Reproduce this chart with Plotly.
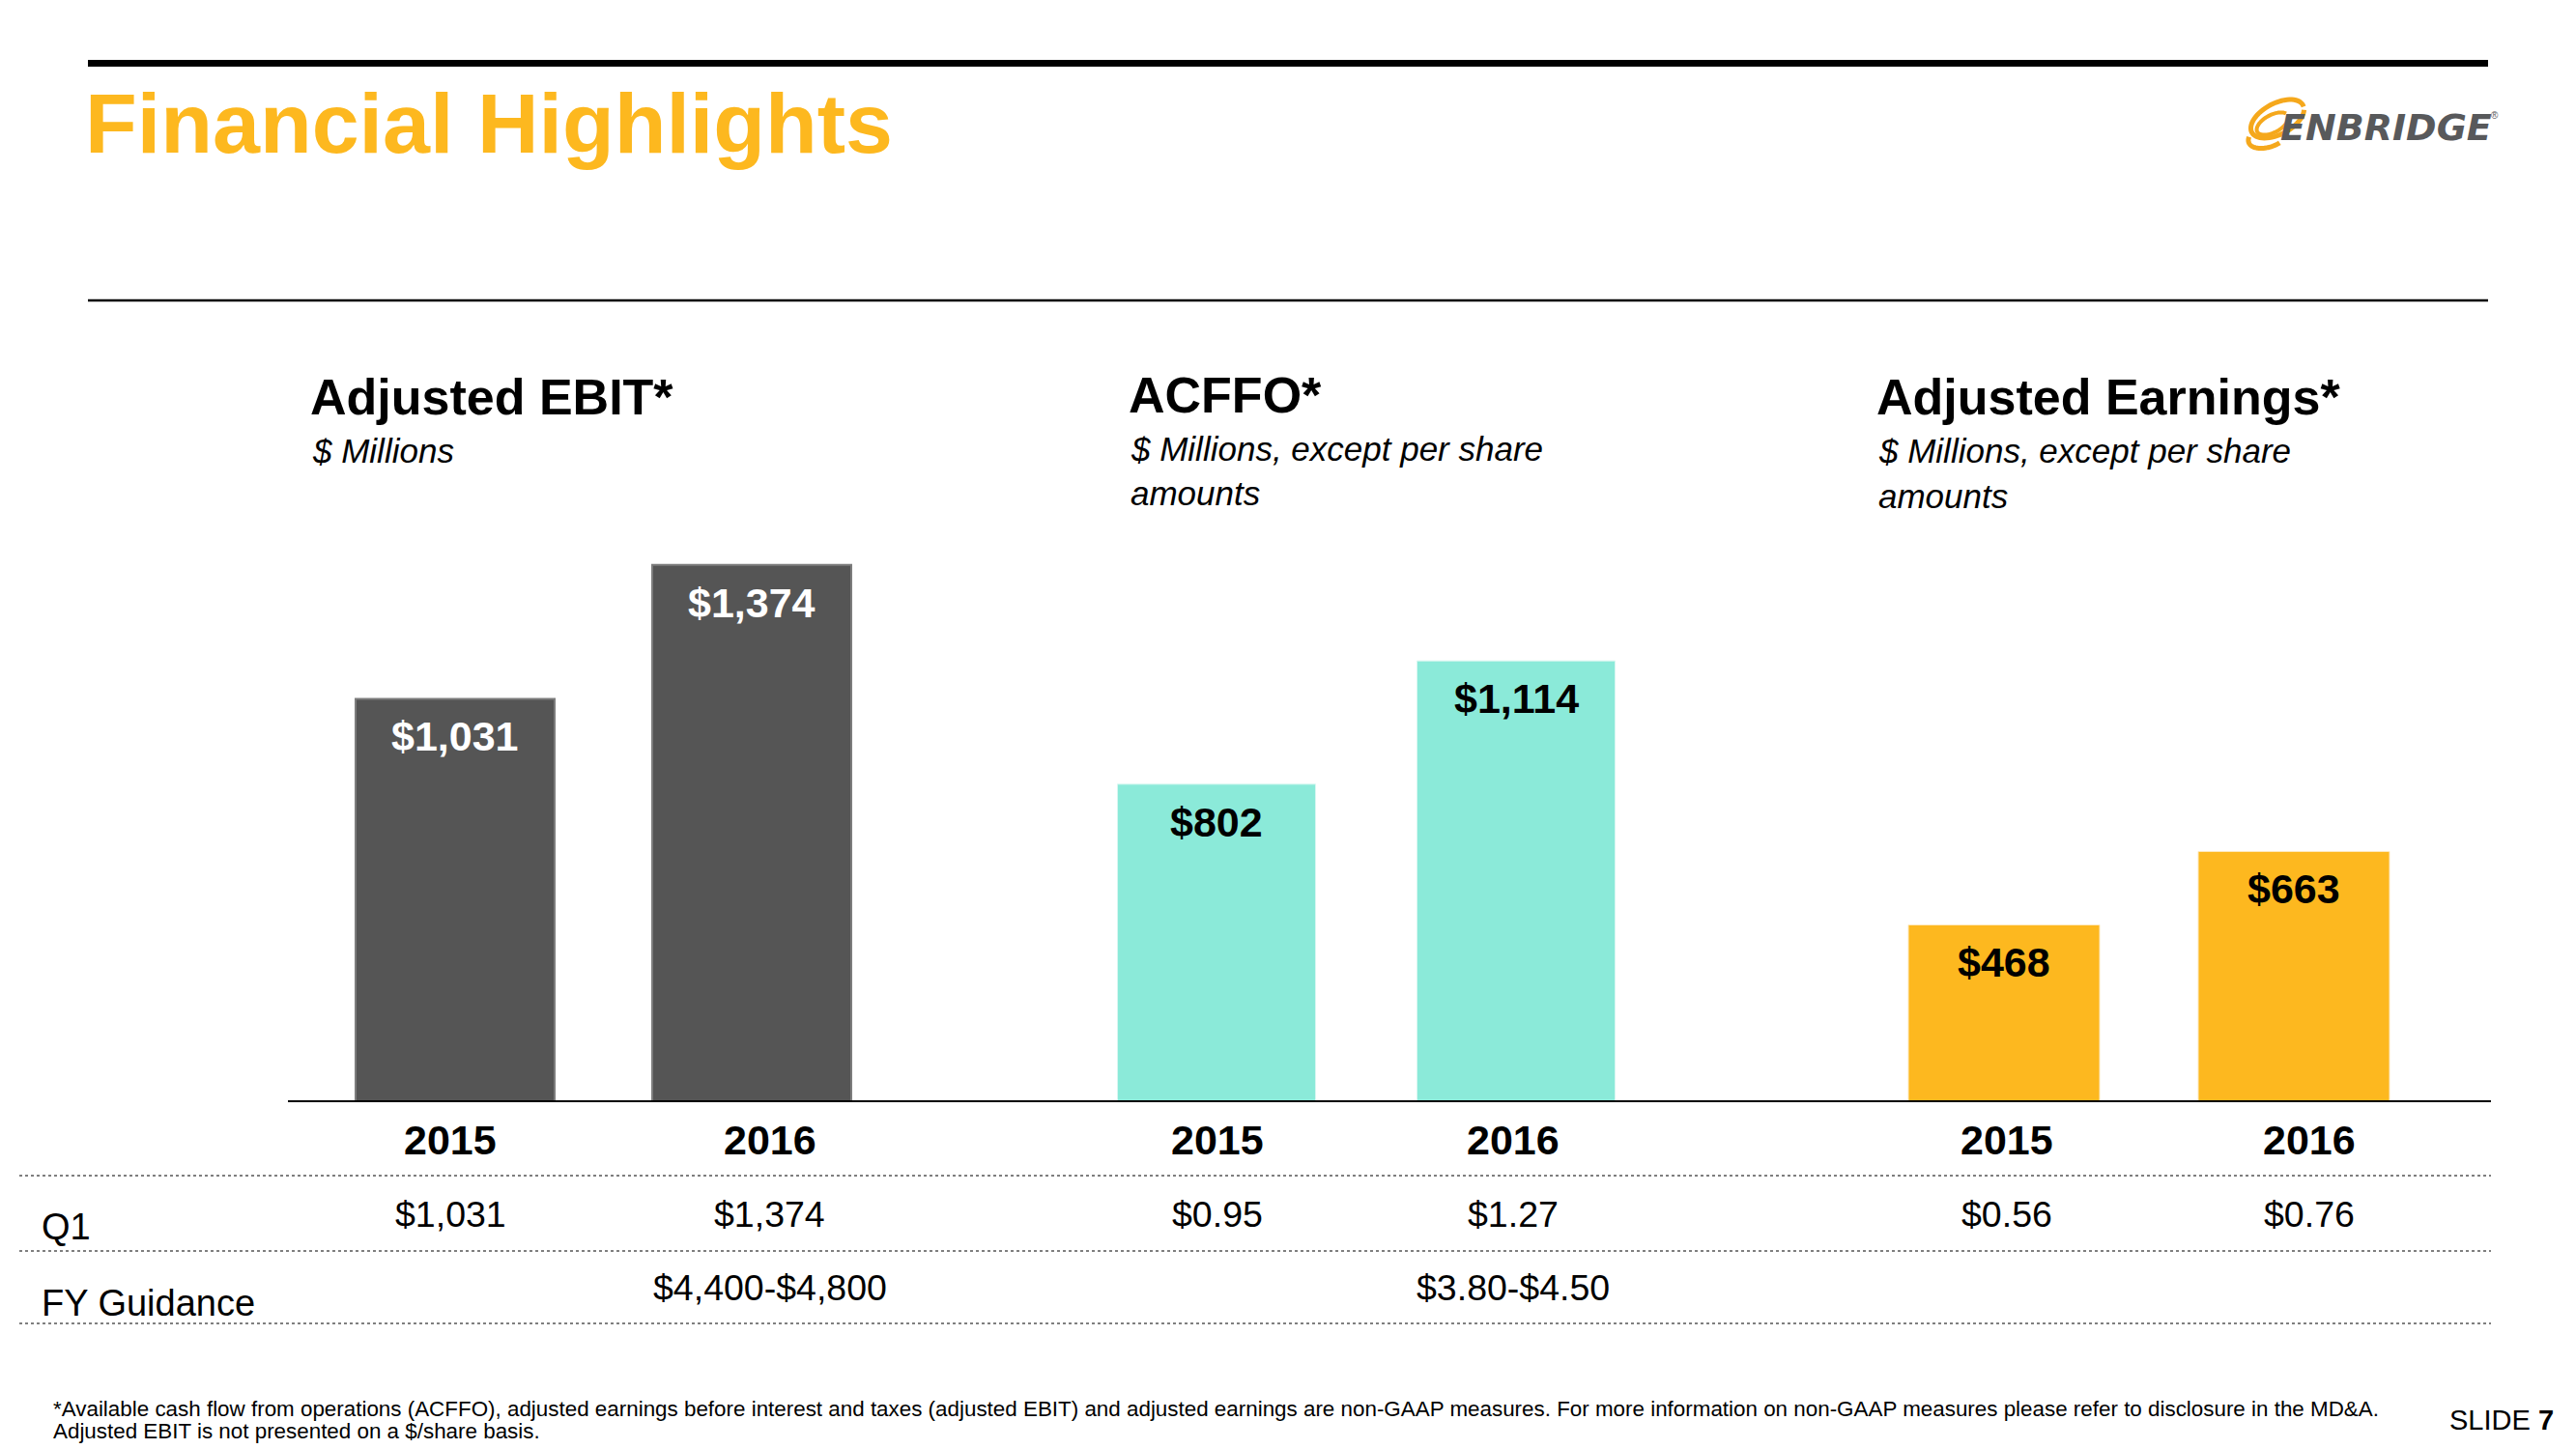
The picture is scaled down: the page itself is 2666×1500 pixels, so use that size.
import numpy as np
import plotly.graph_objects as go

W, H = 2666, 1500
OFF = 8  # page body margin compensation

# ---------------- data ----------------
years = ["2015", "2016"]
ebit = [1031, 1374]
acffo = [802, 1114]
earnings = [468, 663]
ebit_labels = ["$1,031", "$1,374"]
acffo_labels = ["$802", "$1,114"]
earn_labels = ["$468", "$663"]

q1_ebit = ["$1,031", "$1,374"]
q1_acffo = ["$0.95", "$1.27"]
q1_earn = ["$0.56", "$0.76"]
fy_ebit = "$4,400-$4,800"
fy_acffo = "$3.80-$4.50"

FONT = "Liberation Sans, Arial, Helvetica, sans-serif"
C_EBIT = "#555555"
C_ACFFO = "#8BEAD9"
C_EARN = "#FDB81F"
C_TITLE = "#FDB81F"


def px(x):
    return (x - OFF) / W


def py(y):
    return 1 - (y - OFF) / H


fig = go.Figure()

groups = [
    ("x", "y", ebit, ebit_labels, C_EBIT, "white", 206 / 307, dict(color="#7d7d7d", width=2)),
    ("x2", "y2", acffo, acffo_labels, C_ACFFO, "black", 205 / 310, dict(color="#d8f7f1", width=1)),
    ("x3", "y3", earnings, earn_labels, C_EARN, "black", 198 / 300, dict(color="#fde9bf", width=1)),
]

for xa, ya, vals, labs, col, tcol, wd, ln in groups:
    fig.add_trace(go.Bar(x=years, y=vals, xaxis=xa, yaxis=ya, width=wd,
                         marker=dict(color=col, line=ln), showlegend=False,
                         hoverinfo="skip"))
    for i, (v, lb) in enumerate(zip(vals, labs)):
        fig.add_annotation(x=i, y=v, xref=xa, yref=ya, text=lb, showarrow=False,
                           yshift=-39, yanchor="middle",
                           font=dict(family=FONT, size=43, color=tcol, weight="bold"))

ydom = [py(1140), py(500)]
axis_common = dict(showgrid=False, zeroline=False, showticklabels=False, showline=False, ticks="")
fig.update_layout(
    width=W, height=H, margin=dict(l=0, r=0, t=0, b=0),
    paper_bgcolor="white", plot_bgcolor="rgba(0,0,0,0)",
    xaxis=dict(domain=[px(317.5), px(931.5)], anchor="y", type="category", range=[-0.5, 1.5], **axis_common),
    xaxis2=dict(domain=[px(1104), px(1724)], anchor="y2", type="category", range=[-0.5, 1.5], **axis_common),
    xaxis3=dict(domain=[px(1924), px(2524)], anchor="y3", type="category", range=[-0.5, 1.5], **axis_common),
    yaxis=dict(domain=ydom, anchor="x", range=[0, 1584], **axis_common),
    yaxis2=dict(domain=ydom, anchor="x2", range=[0, 1564], **axis_common),
    yaxis3=dict(domain=ydom, anchor="x3", range=[0, 1641], **axis_common),
)

shapes = []
shapes.append(dict(type="line", xref="paper", yref="paper", x0=px(91), x1=px(2575), y0=py(65.5), y1=py(65.5),
                   line=dict(color="black", width=7)))
shapes.append(dict(type="line", xref="paper", yref="paper", x0=px(91), x1=px(2575), y0=py(311), y1=py(311),
                   line=dict(color="black", width=2.5)))
shapes.append(dict(type="line", xref="paper", yref="paper", x0=px(298), x1=px(2578), y0=py(1140), y1=py(1140),
                   line=dict(color="black", width=2)))
for yy in [1217, 1295, 1370]:
    shapes.append(dict(type="line", xref="paper", yref="paper", x0=px(20), x1=px(2578), y0=py(yy), y1=py(yy),
                       line=dict(color="#555555", width=1.5, dash="dot")))


def ellipse_path(cx, cy, rx, ry, ang_deg, t0=0.0, t1=2 * np.pi, n=60):
    t = np.linspace(t0, t1, n)
    a = np.deg2rad(ang_deg)
    xs = cx + rx * np.cos(t) * np.cos(a) - ry * np.sin(t) * np.sin(a)
    ys = cy + rx * np.cos(t) * np.sin(a) + ry * np.sin(t) * np.cos(a)
    pts = [f"{px(x):.5f},{py(y):.5f}" for x, y in zip(xs, ys)]
    return "M" + " L".join(pts)


shapes.append(dict(type="path", xref="paper", yref="paper",
                   path=ellipse_path(2357, 123, 30, 16, -28, 0.3, 2 * np.pi + 0.1),
                   line=dict(color="#F5A81C", width=5)))
shapes.append(dict(type="path", xref="paper", yref="paper",
                   path=ellipse_path(2352, 128, 18, 9, -28, 0.6, 2 * np.pi - 0.3),
                   line=dict(color="#F5A81C", width=4)))
shapes.append(dict(type="path", xref="paper", yref="paper",
                   path=ellipse_path(2348, 140, 22, 12, -20, 1.2, 3.6),
                   line=dict(color="#F5A81C", width=5)))
fig.update_layout(shapes=shapes)


def ann(text, x, y, size, color="black", xanchor="left", weight="normal", style="normal", family=FONT):
    fig.add_annotation(text=text, x=px(x), y=py(y), xref="paper", yref="paper", showarrow=False,
                       xanchor=xanchor, yanchor="middle", align="left",
                       font=dict(family=family, size=size, color=color, weight=weight, style=style))


ann("Financial Highlights", 86, 128, 88, color=C_TITLE, weight="bold")
ann("ENBRIDGE", 2469, 132, 38, color="#58595B", xanchor="center", weight="bold", style="italic",
    family="DejaVu Sans, Liberation Sans, sans-serif")
ann("®", 2582, 120, 10, color="#58595B", xanchor="center")

ann("Adjusted EBIT*", 319, 411, 52, weight="bold")
ann("$ Millions", 321, 466, 35, style="italic")
ann("ACFFO*", 1166, 409, 52, weight="bold")
ann("$ Millions, except per share", 1168, 464, 35, style="italic")
ann("amounts", 1168, 511, 35, style="italic")
ann("Adjusted Earnings*", 1940, 411, 52, weight="bold")
ann("$ Millions, except per share", 1942, 466, 35, style="italic")
ann("amounts", 1942, 513, 35, style="italic")

col_x = [466, 797, 1260, 1566, 2077, 2390]
for cx, yr in zip(col_x, years * 3):
    ann(yr, cx, 1180, 43, xanchor="center", weight="bold")
for cx, v in zip(col_x, q1_ebit + q1_acffo + q1_earn):
    ann(v, cx, 1257, 37.5, xanchor="center")
ann("Q1", 41, 1270, 38)
ann("FY Guidance", 41, 1349, 38)
ann(fy_ebit, 797, 1333, 37.5, xanchor="center")
ann(fy_acffo, 1566, 1333, 37.5, xanchor="center")

ann("*Available cash flow from operations (ACFFO), adjusted earnings before interest and taxes (adjusted EBIT) "
    "and adjusted earnings are non-GAAP measures. For more information on non-GAAP measures please refer to "
    "disclosure in the MD&A.", 53, 1458, 22.4)
ann("Adjusted EBIT is not presented on a $/share basis.", 53, 1481, 22.4)
ann("SLIDE <b>7</b>", 2533, 1470, 29)

fig.write_html("out.html")
